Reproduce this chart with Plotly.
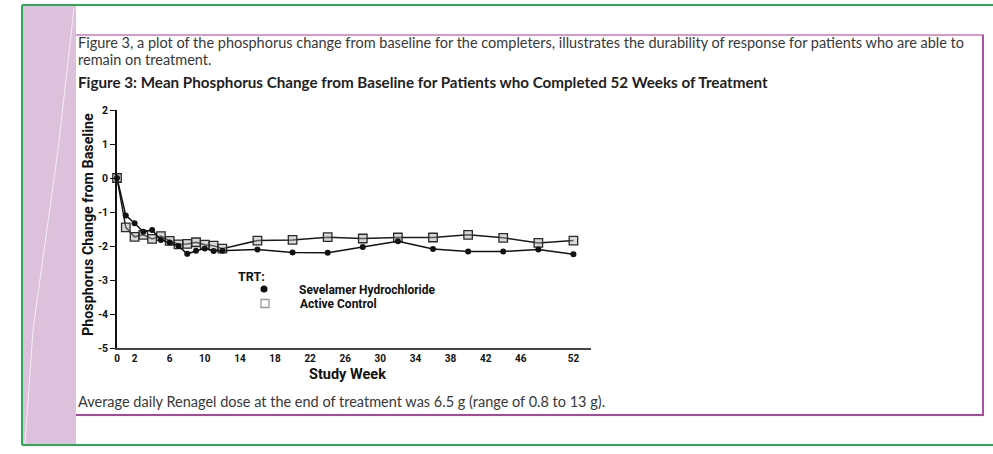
import plotly.graph_objects as go

# ---------------- data ----------------
weeks = [0, 1, 2, 3, 4, 5, 6, 7, 8, 9, 10, 11, 12, 16, 20, 24, 28, 32, 36, 40, 44, 48, 52]
sevelamer = [0.00, -1.10, -1.33, -1.58, -1.53, -1.82, -1.90, -2.00, -2.23, -2.14, -2.07, -2.15,
             -2.14, -2.10, -2.19, -2.20, -2.03, -1.86, -2.09, -2.16, -2.16, -2.10, -2.24]
active_control = [0.00, -1.45, -1.73, -1.67, -1.79, -1.71, -1.85, -1.95, -1.94, -1.89, -1.96, -1.99,
                  -2.08, -1.84, -1.82, -1.74, -1.78, -1.75, -1.75, -1.67, -1.76, -1.91, -1.84]
x_ticks = [0, 2, 6, 10, 14, 18, 22, 26, 30, 34, 38, 42, 46, 52]
y_ticks = [-5, -4, -3, -2, -1, 0, 1, 2]
series_names = ["Sevelamer Hydrochloride", "Active Control"]

W, H = 993, 454


def px(x):
    return x / W


def py(y):
    return 1 - y / H


COND = "Roboto, Liberation Sans Narrow, DejaVu Sans Condensed, sans-serif"
BODY = "Lato, Noto Sans, sans-serif"

fig = go.Figure()

fig.add_trace(go.Scatter(
    x=weeks, y=active_control, mode="lines+markers", showlegend=False, cliponaxis=False,
    line=dict(color="#1a1a1a", width=1.5),
    marker=dict(symbol="square", size=8.5, color="rgba(170,170,170,0.45)",
                line=dict(color="#2a2a2a", width=1.3)),
))
fig.add_trace(go.Scatter(
    x=weeks, y=sevelamer, mode="lines+markers", showlegend=False, cliponaxis=False,
    line=dict(color="#111111", width=1.5),
    marker=dict(symbol="circle", size=6, color="#111111"),
))
# legend-only entries
fig.add_trace(go.Scatter(
    x=[None], y=[None], mode="markers", name="<b>" + series_names[0] + "</b>", legend="legend",
    marker=dict(symbol="circle", size=7, color="#111111"),
))
fig.add_trace(go.Scatter(
    x=[None], y=[None], mode="markers", name="<b>" + series_names[1] + "</b>", legend="legend2",
    marker=dict(symbol="square", size=8, color="white", line=dict(color="#999999", width=1.3)),
))

shapes = [
    # pink side strip
    dict(type="rect", xref="paper", yref="paper", x0=px(23), x1=px(76), y0=py(444), y1=py(6),
         fillcolor="#dcc0dc", line=dict(width=0), layer="below"),
    # faint scan streak
    dict(type="path", xref="paper", yref="paper",
         path=f"M {px(74)},{py(8)} L {px(58)},{py(150)} L {px(33)},{py(330)} L {px(25)},{py(444)}",
         line=dict(color="rgba(255,255,255,0.7)", width=1), layer="below"),
    # green frame
    dict(type="line", xref="paper", yref="paper", x0=px(22), x1=px(993), y0=py(5), y1=py(5),
         line=dict(color="#2eaa55", width=2)),
    dict(type="line", xref="paper", yref="paper", x0=px(22), x1=px(22), y0=py(5), y1=py(445),
         line=dict(color="#2eaa55", width=2)),
    dict(type="line", xref="paper", yref="paper", x0=px(22), x1=px(993), y0=py(445), y1=py(445),
         line=dict(color="#2eaa55", width=2)),
    # magenta box
    dict(type="line", xref="paper", yref="paper", x0=px(76), x1=px(984), y0=py(35), y1=py(35),
         line=dict(color="#c878bc", width=1.6)),
    dict(type="line", xref="paper", yref="paper", x0=px(983), x1=px(983), y0=py(35), y1=py(415),
         line=dict(color="#b050a4", width=2)),
    dict(type="line", xref="paper", yref="paper", x0=px(76), x1=px(984), y0=py(415), y1=py(415),
         line=dict(color="#a8489c", width=2)),
]


def note(text, x, y, font, xanchor="left", **kw):
    return dict(text=text, xref="paper", yref="paper", x=px(x), y=py(y), xanchor=xanchor,
                yanchor="middle", showarrow=False, font=font, **kw)


body_font = dict(family=BODY, size=14.5, color="#383838")
annotations = [
    note("Figure 3, a plot of the phosphorus change from baseline for the completers, illustrates the durability of response for patients who are able to",
         76, 43, body_font),
    note("remain on treatment.", 76, 59, body_font),
    note("<b>Figure 3: Mean Phosphorus Change from Baseline for Patients who Completed 52 Weeks of Treatment</b>",
         76, 82, dict(family=BODY, size=15.2, color="#1e1e1e")),
    note("Average daily Renagel dose at the end of treatment was 6.5 g (range of 0.8 to 13 g).",
         76, 401, body_font),
    note("<b>Phosphorus Change from Baseline</b>", 88, 225,
         dict(family=COND, size=14.3, color="#111111"), xanchor="center", textangle=-90),
    note("<b>Study Week</b>", 347, 374, dict(family=COND, size=14.5, color="#111111"), xanchor="center"),
    note("<b>TRT:</b>", 236, 276, dict(family=COND, size=12.5, color="#111111")),
]

legend_common = dict(xanchor="left", yanchor="middle", bgcolor="rgba(0,0,0,0)", borderwidth=0,
                     itemwidth=60, font=dict(family=COND, size=12, color="#111111"))

fig.update_layout(
    width=W, height=H,
    margin=dict(l=0, r=0, t=0, b=0, autoexpand=False),
    paper_bgcolor="white", plot_bgcolor="white",
    shapes=shapes, annotations=annotations,
    showlegend=True,
    legend=dict(x=px(229), y=py(289), **legend_common),
    legend2=dict(x=px(230), y=py(303.5), **legend_common),
    xaxis=dict(domain=[px(117), px(591)], range=[0, 54], tickmode="array", tickvals=x_ticks,
               ticktext=[f"<b>{t}</b>" for t in x_ticks], ticks="", showgrid=False, zeroline=False,
               showline=True, linecolor="#444444", linewidth=1.5,
               tickfont=dict(family=COND, size=10, color="#111111")),
    yaxis=dict(domain=[py(348), py(110)], range=[-5, 2], tickmode="array", tickvals=y_ticks,
               ticktext=[f"<b>{t}</b>" for t in y_ticks], ticks="outside",
               ticklen=5, tickwidth=1.3, tickcolor="#111111", showgrid=False, zeroline=False,
               showline=True, linecolor="#111111", linewidth=1.5,
               tickfont=dict(family=COND, size=10.5, color="#111111")),
)

fig.write_html("out.html", config={"displayModeBar": False},
               post_script="document.body.style.margin='0';document.body.style.padding='0';")
